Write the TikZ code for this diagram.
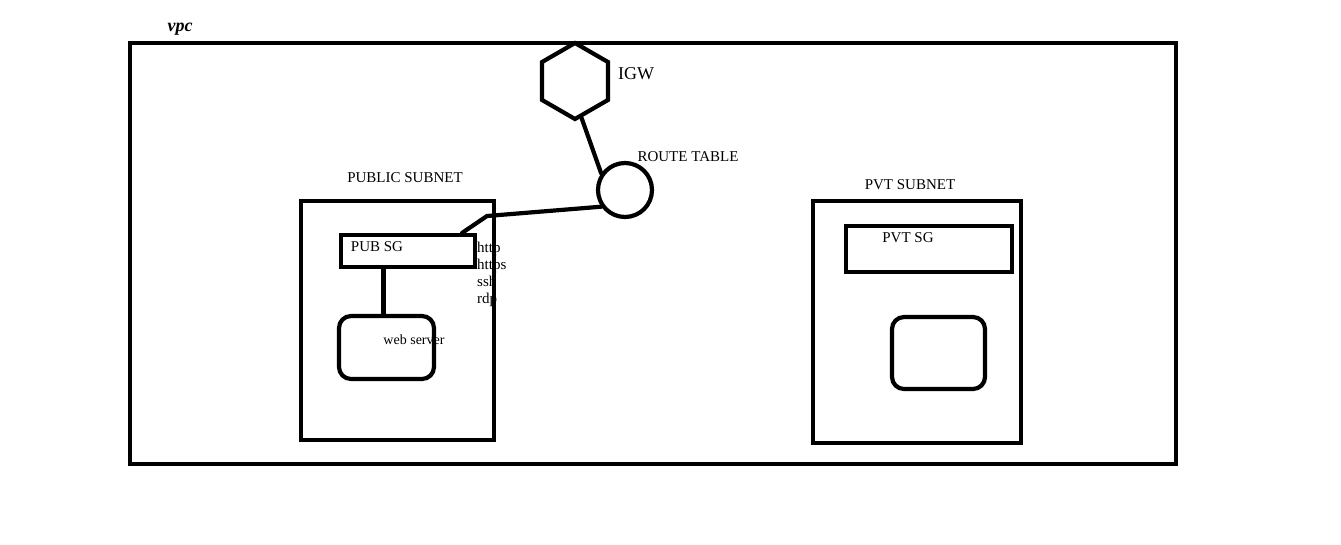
\documentclass[tikz,border=0pt]{standalone}
\usepackage{fontspec}
\setmainfont{Liberation Serif}
\usetikzlibrary{shapes.geometric}

\begin{document}
\begin{tikzpicture}[x=1pt, y=-1pt,
  thickline/.style = {line width=4.2pt},
  boxnode/.style   = {rectangle, draw, thickline, inner sep=0pt},
  srvbox/.style    = {boxnode, rounded corners=12pt},
  lbl/.style       = {inner sep=0pt, font=\fontsize{15}{17}\selectfont},
  wire/.style      = {thickline, line cap=round}
]
\useasboundingbox (0,0) rectangle (1341,544);

% vpc frame
\node[boxnode, minimum width=1046pt, minimum height=421pt] (vpc) at (653,253.5) {};
\node[inner sep=0pt, font=\fontsize{18}{20}\selectfont\bfseries\itshape] (vpclbl) at (180,29) {vpc};

% internet gateway and route table
\node[regular polygon, regular polygon sides=6, shape border rotate=30,
      draw, thickline, inner sep=0pt, minimum size=76pt] (igw) at (575,81) {};
\node[lbl, font=\fontsize{18}{20}\selectfont] (igwlbl) at (636,74) {IGW};
\node[circle, draw, thickline, inner sep=0pt, minimum size=54pt] (rt) at (625,190) {};
\node[lbl] (rtlbl) at (688,157) {ROUTE TABLE};

% public subnet
\node[lbl, anchor=north west, align=left] (ports) at (477,242) {http\\https\\ssh\\rdp};
\node[boxnode, minimum width=193pt, minimum height=239pt] (pubnet) at (397.5,320.5) {};
\node[lbl] (pubnetlbl) at (405,178) {PUBLIC SUBNET};
\node[boxnode, minimum width=134pt, minimum height=32pt] (pubsg) at (408,251) {};
\node[lbl] (pubsglbl) at (377,247) {PUB SG};
\node[srvbox, minimum width=95pt, minimum height=63pt] (web) at (386.5,347.5) {};
\node[lbl, font=\fontsize{14}{16}\selectfont] (weblbl) at (414,340) {web server};

% private subnet
\node[boxnode, minimum width=208pt, minimum height=242pt] (pvtnet) at (917,322) {};
\node[lbl] (pvtnetlbl) at (910,185) {PVT SUBNET};
\node[boxnode, minimum width=166pt, minimum height=46pt] (pvtsg) at (929,249) {};
\node[lbl] (pvtsglbl) at (908,238) {PVT SG};
\node[srvbox, minimum width=93pt, minimum height=72pt] (pvtsrv) at (938.5,353) {};

% links
\coordinate (kink) at (487,216);
\draw[wire] (igw.-80) -- (rt.145);
\draw[wire] (rt.215) -- (kink) -- ([xshift=-15pt]pubsg.north east);
\draw[wire] ([xshift=-3pt]web.north |- pubsg.south) -- ([xshift=-3pt]web.north);

\end{tikzpicture}
\end{document}
